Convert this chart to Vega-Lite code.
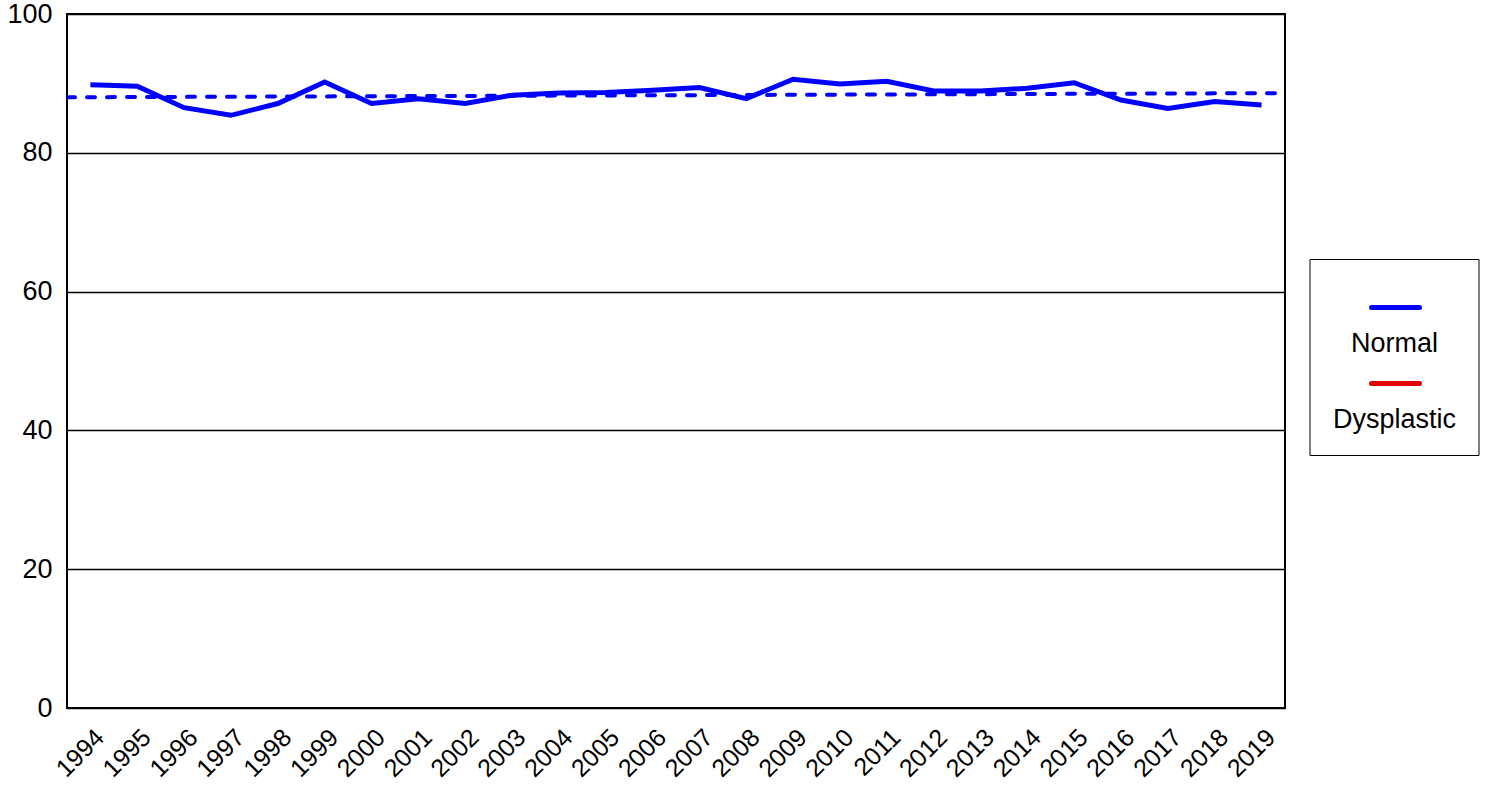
{
  "$schema": "https://vega.github.io/schema/vega-lite/v6.json",
  "autosize": {"type": "none"},
  "padding": {"left": 67, "top": 14, "right": 200, "bottom": 80},
  "width": 1218,
  "height": 694,
  "background": "white",
  "config": {
    "view": {"stroke": "black", "strokeWidth": 2},
    "font": "Liberation Sans"
  },
  "datasets": {
    "main": [
      {"year": 1994, "value": 89.8, "series": "Normal"},
      {"year": 1995, "value": 89.6, "series": "Normal"},
      {"year": 1996, "value": 86.5, "series": "Normal"},
      {"year": 1997, "value": 85.4, "series": "Normal"},
      {"year": 1998, "value": 87.1, "series": "Normal"},
      {"year": 1999, "value": 90.2, "series": "Normal"},
      {"year": 2000, "value": 87.1, "series": "Normal"},
      {"year": 2001, "value": 87.8, "series": "Normal"},
      {"year": 2002, "value": 87.1, "series": "Normal"},
      {"year": 2003, "value": 88.3, "series": "Normal"},
      {"year": 2004, "value": 88.6, "series": "Normal"},
      {"year": 2005, "value": 88.7, "series": "Normal"},
      {"year": 2006, "value": 89.0, "series": "Normal"},
      {"year": 2007, "value": 89.4, "series": "Normal"},
      {"year": 2008, "value": 87.8, "series": "Normal"},
      {"year": 2009, "value": 90.6, "series": "Normal"},
      {"year": 2010, "value": 89.9, "series": "Normal"},
      {"year": 2011, "value": 90.3, "series": "Normal"},
      {"year": 2012, "value": 88.9, "series": "Normal"},
      {"year": 2013, "value": 88.9, "series": "Normal"},
      {"year": 2014, "value": 89.3, "series": "Normal"},
      {"year": 2015, "value": 90.1, "series": "Normal"},
      {"year": 2016, "value": 87.6, "series": "Normal"},
      {"year": 2017, "value": 86.4, "series": "Normal"},
      {"year": 2018, "value": 87.4, "series": "Normal"},
      {"year": 2019, "value": 86.9, "series": "Normal"}
    ],
    "trend": [
      {"year": 1993.5, "value": 88.0},
      {"year": 2019.5, "value": 88.6}
    ]
  },
  "layer": [
    {
      "data": {"name": "trend"},
      "mark": {"type": "line", "color": "#0000FF", "strokeWidth": 4, "strokeDash": [8, 12], "strokeCap": "round", "clip": true},
      "encoding": {
        "x": {"field": "year", "type": "quantitative", "scale": {"domain": [1993.5, 2019.5], "nice": false, "zero": false},
          "axis": {"values": [1994,1995,1996,1997,1998,1999,2000,2001,2002,2003,2004,2005,2006,2007,2008,2009,2010,2011,2012,2013,2014,2015,2016,2017,2018,2019],
            "format": "d", "title": null, "grid": false, "ticks": false, "domain": false,
            "labelAngle": -45, "labelAlign": "right", "labelBaseline": "middle",
            "labelFontSize": 25, "labelColor": "black", "labelPadding": 25, "labelOffset": 9, "labelFlush": false, "labelOverlap": false}},
        "y": {"field": "value", "type": "quantitative", "scale": {"domain": [0, 100], "nice": false},
          "axis": {"values": [0, 20, 40, 60, 80, 100], "title": null, "grid": true, "gridColor": "black", "gridWidth": 1.5, "gridOpacity": 1,
            "ticks": false, "domain": false, "labelFontSize": 27, "labelColor": "black", "labelPadding": 15}}
      }
    },
    {
      "data": {"name": "main"},
      "mark": {"type": "line", "strokeWidth": 5, "strokeJoin": "miter"},
      "encoding": {
        "x": {"field": "year", "type": "quantitative"},
        "y": {"field": "value", "type": "quantitative"},
        "color": {"field": "series", "type": "nominal",
          "scale": {"domain": ["Normal", "Dysplastic"], "range": ["#0000FF", "#E00000"]},
          "legend": {
            "orient": "none", "legendX": 1242.5, "legendY": 245,
            "title": null,
            "symbolType": "stroke", "symbolSize": 2304, "symbolStrokeWidth": 5,
            "symbolOffset": 37.5,
            "labelFontSize": 27, "labelColor": "black", "labelFont": "Liberation Sans",
            "labelOffset": -27.5, "labelAlign": "center",
            "rowPadding": 0, "padding": 22,
            "strokeColor": "black", "fillColor": "white",
            "encode": {
              "labels": {"update": {"dy": {"value": 36}}},
              "symbols": {"update": {"strokeCap": {"value": "round"}}}
            }
          }}
      }
    }
  ]
}
